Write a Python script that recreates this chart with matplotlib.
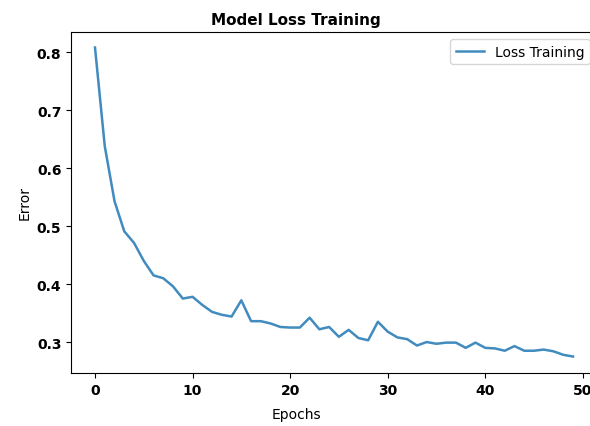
import matplotlib
matplotlib.use("Agg")
import matplotlib.pyplot as plt

# Training loss per epoch
epochs = list(range(50))
loss_training = [
    0.808, 0.638, 0.543, 0.491, 0.471, 0.440, 0.415, 0.410, 0.396, 0.375,
    0.378, 0.364, 0.352, 0.347, 0.344, 0.372, 0.336, 0.336, 0.332, 0.326,
    0.325, 0.325, 0.342, 0.322, 0.326, 0.309, 0.321, 0.307, 0.303, 0.335,
    0.318, 0.308, 0.305, 0.294, 0.300, 0.297, 0.299, 0.299, 0.290, 0.299,
    0.290, 0.289, 0.285, 0.293, 0.285, 0.285, 0.287, 0.284, 0.278, 0.275,
]

W, H = 590, 427
fig = plt.figure(figsize=(W / 100, H / 100), dpi=100)
ax = fig.add_axes([71.1 / W, (H - 374) / H, 525.8 / W, 341 / H])

ax.plot(epochs, loss_training, color="#1f77b4", lw=1.8, alpha=0.85,
        label="Loss Training")

ax.set_xticks([0, 10, 20, 30, 40, 50])
ax.set_yticks([0.3, 0.4, 0.5, 0.6, 0.7, 0.8])
ax.set_xlim(-2.45, 51.45)
ax.set_ylim(0.2466, 0.8348)
ax.tick_params(labelsize=10)
for lbl in ax.get_xticklabels() + ax.get_yticklabels():
    lbl.set_fontweight("bold")

ax.set_title("Model Loss Training", fontsize=11, fontweight="bold",
             x=0.428, pad=6)
ax.set_xlabel("Epochs", fontsize=10)
ax.xaxis.set_label_coords(0.428, -0.1)
ax.set_ylabel("Error", fontsize=10)

ax.legend(loc="upper right", fontsize=10)

fig.savefig("out.png", dpi=100)
